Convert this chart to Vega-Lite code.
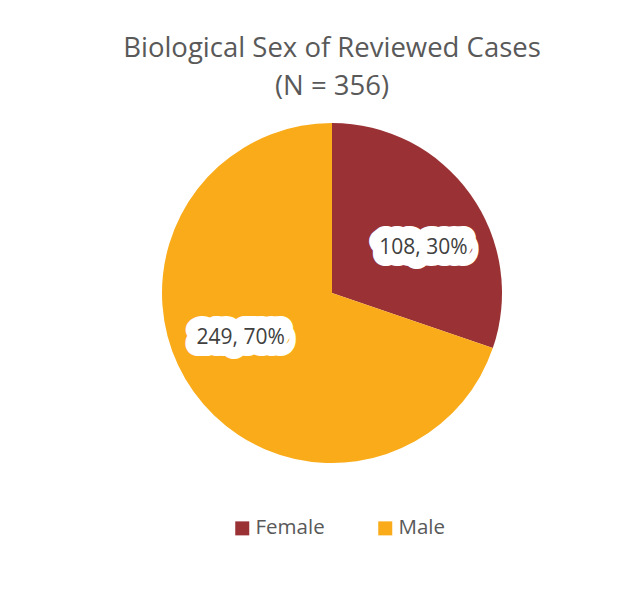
{
  "$schema": "https://vega.github.io/schema/vega-lite/v6.json",
  "autosize": {"type": "none"},
  "width": 624,
  "height": 578,
  "padding": {"left": 20, "top": 4, "right": 0, "bottom": 10},
  "background": "white",
  "config": {
    "view": {"stroke": "#D9D9D9", "strokeWidth": 1, "strokeDash": [624, 1780]},
    "font": "Open Sans"
  },
  "title": {
    "text": ["Biological Sex of Reviewed Cases", "(N = 356)"],
    "fontSize": 27.5,
    "font": "Open Sans",
    "fontWeight": "normal",
    "color": "#595959",
    "lineHeight": 38,
    "anchor": "middle",
    "frame": "group",
    "offset": -96
  },
  "data": {
    "values": [
      {"sex": "Female", "count": 108, "label": "108, 30%"},
      {"sex": "Male", "count": 249, "label": "249, 70%"}
    ]
  },
  "layer": [
    {
      "mark": {"type": "arc", "outerRadius": 170},
      "encoding": {
        "theta": {"field": "count", "type": "quantitative", "stack": true},
        "order": {"field": "sex", "sort": "ascending"},
        "color": {
          "field": "sex",
          "type": "nominal",
          "scale": {"domain": ["Female", "Male"], "range": ["#9A3134", "#FAAB19"]},
          "legend": {
            "orient": "none",
            "legendX": 212,
            "legendY": 514,
            "direction": "horizontal",
            "title": null,
            "symbolType": "square",
            "symbolSize": 196,
            "symbolStrokeWidth": 0,
            "symbolOpacity": 1,
            "labelFontSize": 20.5,
            "labelFont": "Open Sans",
            "labelColor": "#595959",
            "labelOffset": 3,
            "columnPadding": 50,
            "padding": 0
          }
        }
      }
    },
    {
      "mark": {
        "type": "text",
        "radius": 102,
        "thetaOffset": 0.16,
        "fontSize": 21,
        "font": "Open Sans",
        "fill": "white",
        "stroke": "white",
        "strokeWidth": 24,
        "strokeJoin": "round"
      },
      "encoding": {
        "theta": {"field": "count", "type": "quantitative", "stack": true},
        "order": {"field": "sex", "sort": "ascending"},
        "detail": {"field": "sex"},
        "text": {"field": "label"}
      }
    },
    {
      "mark": {
        "type": "text",
        "radius": 102,
        "thetaOffset": 0.16,
        "fontSize": 21,
        "font": "Open Sans",
        "fill": "#404040"
      },
      "encoding": {
        "theta": {"field": "count", "type": "quantitative", "stack": true},
        "order": {"field": "sex", "sort": "ascending"},
        "detail": {"field": "sex"},
        "text": {"field": "label"}
      }
    }
  ]
}
